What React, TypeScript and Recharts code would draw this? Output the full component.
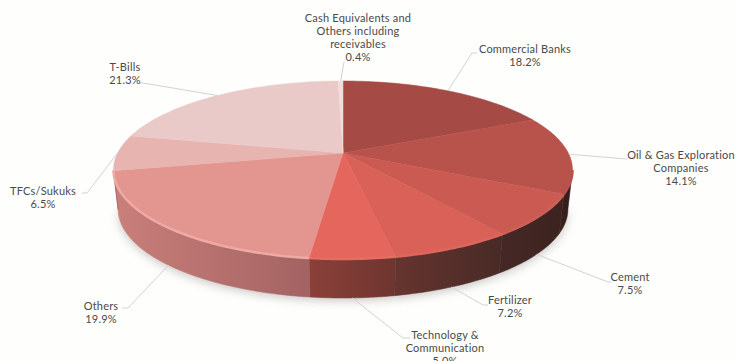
import React from 'react';
import { PieChart, Pie } from 'recharts';

const categories = [
  'Commercial Banks',
  'Oil & Gas Exploration Companies',
  'Cement',
  'Fertilizer',
  'Technology & Communication',
  'Others',
  'TFCs/Sukuks',
  'T-Bills',
  'Cash Equivalents and Others including receivables',
];
const shares = [18.2, 14.1, 7.5, 7.2, 5.0, 19.9, 6.5, 21.3, 0.4];

const labelLines = [
  ['Commercial Banks'],
  ['Oil & Gas Exploration', 'Companies'],
  ['Cement'],
  ['Fertilizer'],
  ['Technology &', 'Communication'],
  ['Others'],
  ['TFCs/Sukuks'],
  ['T-Bills'],
  ['Cash Equivalents  and', 'Others including', 'receivables'],
];

const faceColors = ['#a54a45', '#b8534c', '#cb5a53', '#da6158', '#e5665c', '#e3958f', '#e8b4b0', '#e9cac9', '#f0dedd'];
const wallLeft = ['#3a201d', '#38201c', '#452825', '#66342f', '#8c403a', '#ca7f7a', '#ca7f7a', '#ca7f7a', '#ca7f7a'];
const wallRight = ['#3a201d', '#2e1a18', '#3c2320', '#482a26', '#6e352f', '#a36362', '#a36362', '#a36362', '#a36362'];
const rimColors = ['#a54a45', '#b8534c', '#cf6058', '#de665d', '#e86c62', '#eeaba6', '#e8b4b0', '#e9cac9', '#f0dedd'];

// text block centre and leader elbow for each label
const labelCentres = [
  [525, 49], [681, 155], [630, 277], [510, 300], [445, 335], [101, 306], [43, 191], [125, 67], [358, 18],
];
const leaderElbows = [
  [[472, 53], [477, 53]],
  [[627, 159]],
  [[608, 282], [611, 282]],
  [[483, 305], [488, 305]],
  [[403, 338], [410, 338]],
  [[128, 308], [122, 308]],
  [[87, 193], [82, 193]],
  [[143, 83], [140, 83]],
  [[344, 62]],
];

const rows = categories.map((name, i) => ({ name, value: shares[i] }));

// Tilted disc: the circle is put through a homography, so the hub sits above
// the centre of the projected ellipse, as in a perspective view.
const TILT = 0.191;
const FLATTEN = 0.3807;
const DEPTH = 39;
const BOTTOM_SCALE = 0.98;
const EDGE_ANGLE = (Math.asin(TILT) * 180) / Math.PI;

const project = (p: any, angle: number) => {
  const rad = (angle * Math.PI) / 180;
  const u = Math.cos(rad);
  const v = Math.sin(rad);
  const k = 1 + TILT * v;
  return { x: p.cx + (p.outerRadius * u) / k, y: p.cy - (p.outerRadius * FLATTEN * v) / k };
};

const drop = (p: any, pt: { x: number; y: number }) => ({
  x: p.cx + (pt.x - p.cx) * BOTTOM_SCALE,
  y: pt.y + DEPTH,
});

const arcPoints = (p: any, from: number, to: number) => {
  const steps = Math.max(2, Math.ceil(Math.abs(to - from)));
  const pts = [];
  for (let i = 0; i <= steps; i++) pts.push(project(p, from + ((to - from) * i) / steps));
  return pts;
};

const toPath = (pts: { x: number; y: number }[]) =>
  pts.map((pt, i) => `${i ? 'L' : 'M'}${pt.x.toFixed(2)} ${pt.y.toFixed(2)}`).join(' ');

// portion of a slice's arc that faces the viewer
const frontArc = (p: any) => {
  const hi = Math.min(p.startAngle, -EDGE_ANGLE);
  const lo = Math.max(p.endAngle, -180 + EDGE_ANGLE);
  return hi > lo ? [hi, lo] : null;
};

const ShadowSlice = (p: any) => {
  const arc = frontArc(p);
  if (!arc) return <g />;
  const top = arcPoints(p, arc[0], arc[1]).map((pt) => drop(p, pt));
  const d = toPath([{ x: p.cx, y: p.cy + DEPTH }, ...top]) + ' Z';
  return <path d={d} fill="#a9a6a4" opacity={0.6} style={{ filter: 'blur(5px)' }} transform="translate(0 3)" />;
};

const WallSlice = (p: any) => {
  const arc = frontArc(p);
  if (!arc) return <g />;
  const i = categories.indexOf(p.name);
  const top = arcPoints(p, arc[0], arc[1]);
  const bottom = top.map((pt) => drop(p, pt)).reverse();
  const xs = top.map((pt) => pt.x);
  const id = `wall-${i}`;
  return (
    <g>
      <defs>
        <linearGradient id={id} gradientUnits="userSpaceOnUse" x1={Math.min(...xs)} x2={Math.max(...xs)} y1={0} y2={0}>
          <stop offset="0%" stopColor={wallLeft[i]} />
          <stop offset="100%" stopColor={wallRight[i]} />
        </linearGradient>
      </defs>
      <path d={toPath([...top, ...bottom]) + ' Z'} fill={`url(#${id})`} stroke={`url(#${id})`} strokeWidth={0.5} />
    </g>
  );
};

const FaceSlice = (p: any) => {
  const i = categories.indexOf(p.name);
  const d = toPath([{ x: p.cx, y: p.cy }, ...arcPoints(p, p.startAngle, p.endAngle)]) + ' Z';
  const arc = frontArc(p);
  return (
    <g>
      <path d={d} fill={faceColors[i]} stroke={faceColors[i]} strokeWidth={0.5} />
      {arc && <path d={toPath(arcPoints(p, arc[0], arc[1]))} fill="none" stroke={rimColors[i]} strokeWidth={2.5} />}
    </g>
  );
};

const SliceLabel = (p: any) => {
  const i = categories.indexOf(p.name);
  const [centreX, firstY] = labelCentres[i];
  const edge = project(p, p.midAngle);
  const visible = p.midAngle < -EDGE_ANGLE && p.midAngle > -180 + EDGE_ANGLE;
  const start = visible ? drop(p, edge) : edge;
  const linePts = [start, ...leaderElbows[i].map(([x, y]) => ({ x, y }))];
  const lines = [...labelLines[i], `${shares[i].toFixed(1)}%`];
  return (
    <g>
      <path d={toPath(linePts)} fill="none" stroke="#d4d3d0" strokeWidth={1} />
      <text textAnchor="middle" fontFamily="Lato, sans-serif" fontSize={11} fill="#4a4a4a" letterSpacing={0.2}>
        {lines.map((line, n) => (
          <tspan key={n} x={centreX} y={firstY + 4 + n * 13}>
            {line}
          </tspan>
        ))}
      </text>
    </g>
  );
};

const App = () => {
  const pieProps = {
    data: rows,
    dataKey: 'value',
    nameKey: 'name',
    cx: 343,
    cy: 153,
    outerRadius: 225.3,
    startAngle: 90,
    endAngle: -270,
    stroke: 'none',
    isAnimationActive: false,
  };
  return (
    <div style={{ position: 'absolute', left: 0, top: 0, width: 735, height: 361, background: '#fefefc', overflow: 'hidden' }}>
      <PieChart width={735} height={361} margin={{ top: 0, right: 0, bottom: 0, left: 0 }}>
        <Pie {...pieProps} shape={ShadowSlice} />
        <Pie {...pieProps} shape={WallSlice} />
        <Pie {...pieProps} shape={FaceSlice} label={SliceLabel} labelLine={false} />
      </PieChart>
    </div>
  );
};

export default App;
